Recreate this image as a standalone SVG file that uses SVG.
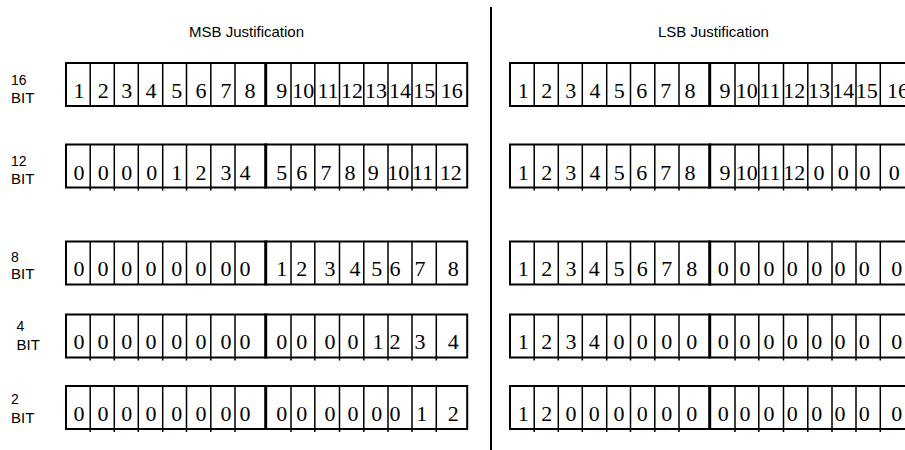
<svg xmlns="http://www.w3.org/2000/svg" xmlns:xlink="http://www.w3.org/1999/xlink" width="905" height="450" viewBox="0 0 905 450">
<style>
.box{fill:none;stroke:#000;stroke-width:2}
.thin{fill:none;stroke:#000;stroke-width:1.5}
.thick{fill:none;stroke:#000;stroke-width:3}
.d{font-family:"Liberation Serif","Times New Roman",serif;font-size:22px;text-anchor:middle;fill:#000}
.num{font-family:"Liberation Sans",Arial,sans-serif;font-size:14px;fill:#000}
.bit{font-family:"Liberation Sans",Arial,sans-serif;font-size:15px;fill:#000}
.title{font-family:"Liberation Sans",Arial,sans-serif;font-size:15px;fill:#000}
</style>
<defs>
<g id="reg">
<rect class="box" x="0" y="0" width="401.2" height="43"/>
<path class="thin" d="M24.2 0V43M48.3 0V43M72.3 0V43M96.7 0V43M120.5 0V43M144.8 0V43M169 0V43M225 0V43M248.8 0V43M273.5 0V43M297.8 0V43M322 0V43M346 0V43M370.3 0V43"/>
<path class="thick" d="M199.7 -1V44"/>
</g>
<g id="regT">
<use xlink:href="#reg"/>
<path class="thin" d="M24.2 43V46M48.3 43V46M72.3 43V46M96.7 43V46M120.5 43V46M144.8 43V46M169 43V46M225 43V46M248.8 43V46M273.5 43V46M297.8 43V46M322 43V46M346 43V46M370.3 43V46"/>
</g>
</defs>

<g id="titles">
<text class="title" x="189" y="37">MSB Justification</text>
<text class="title" x="658" y="37">LSB Justification</text>
</g>

<g id="separator">
<line x1="491" y1="7" x2="491" y2="450" stroke="#000" stroke-width="2"/>
</g>

<g id="row16">
<text class="num" x="11" y="84.5">16</text>
<text class="bit" x="11" y="103">BIT</text>
<use xlink:href="#reg" transform="translate(66,63)"/>
<use xlink:href="#reg" transform="translate(510,63)"/>
<text class="d" y="98"><tspan x="79">1</tspan><tspan x="103.3">2</tspan><tspan x="126.7">3</tspan><tspan x="151">4</tspan><tspan x="176.7">5</tspan><tspan x="201">6</tspan><tspan x="226">7</tspan><tspan x="250">8</tspan><tspan x="281.7">9</tspan><tspan x="303.3">10</tspan><tspan x="328">11</tspan><tspan x="352">12</tspan><tspan x="376">13</tspan><tspan x="400">14</tspan><tspan x="424.3">15</tspan><tspan x="451.7">16</tspan></text>
<text class="d" y="98"><tspan x="523.3">1</tspan><tspan x="546.7">2</tspan><tspan x="570.7">3</tspan><tspan x="595">4</tspan><tspan x="619.3">5</tspan><tspan x="641.7">6</tspan><tspan x="665.7">7</tspan><tspan x="690">8</tspan><tspan x="725">9</tspan><tspan x="746.7">10</tspan><tspan x="770">11</tspan><tspan x="794.3">12</tspan><tspan x="819">13</tspan><tspan x="843.3">14</tspan><tspan x="866.7">15</tspan><tspan x="898">16</tspan></text>
</g>

<g id="row12">
<text class="num" x="11" y="165.5">12</text>
<text class="bit" x="11" y="184">BIT</text>
<use xlink:href="#regT" transform="translate(66,144.5)"/>
<use xlink:href="#regT" transform="translate(510,144.5)"/>
<text class="d" y="180"><tspan x="79">0</tspan><tspan x="103.3">0</tspan><tspan x="126.7">0</tspan><tspan x="151.7">0</tspan><tspan x="176.7">1</tspan><tspan x="201">2</tspan><tspan x="226">3</tspan><tspan x="245">4</tspan><tspan x="281.7">5</tspan><tspan x="301.7">6</tspan><tspan x="326">7</tspan><tspan x="350">8</tspan><tspan x="373.3">9</tspan><tspan x="398.3">10</tspan><tspan x="422.7">11</tspan><tspan x="450.7">12</tspan></text>
<text class="d" y="180"><tspan x="523.3">1</tspan><tspan x="546.7">2</tspan><tspan x="570.7">3</tspan><tspan x="595">4</tspan><tspan x="619.3">5</tspan><tspan x="641.7">6</tspan><tspan x="665.7">7</tspan><tspan x="690">8</tspan><tspan x="725">9</tspan><tspan x="746.7">10</tspan><tspan x="770">11</tspan><tspan x="794.3">12</tspan><tspan x="819">0</tspan><tspan x="843.3">0</tspan><tspan x="865">0</tspan><tspan x="894.3">0</tspan></text>
</g>

<g id="row8">
<text class="num" x="11" y="262">8</text>
<text class="bit" x="11" y="278.5">BIT</text>
<use xlink:href="#reg" transform="translate(66,241.5)"/>
<use xlink:href="#reg" transform="translate(510,241.5)"/>
<text class="d" y="276"><tspan x="79">0</tspan><tspan x="103">0</tspan><tspan x="126.7">0</tspan><tspan x="151">0</tspan><tspan x="176.7">0</tspan><tspan x="201">0</tspan><tspan x="226">0</tspan><tspan x="245">0</tspan><tspan x="281.7">1</tspan><tspan x="301.7">2</tspan><tspan x="330">3</tspan><tspan x="355">4</tspan><tspan x="376.7">5</tspan><tspan x="395">6</tspan><tspan x="420">7</tspan><tspan x="453.3">8</tspan></text>
<text class="d" y="276"><tspan x="523.3">1</tspan><tspan x="546.7">2</tspan><tspan x="571">3</tspan><tspan x="594.3">4</tspan><tspan x="619">5</tspan><tspan x="642.3">6</tspan><tspan x="666.7">7</tspan><tspan x="691.7">8</tspan><tspan x="723.3">0</tspan><tspan x="745">0</tspan><tspan x="769">0</tspan><tspan x="792.3">0</tspan><tspan x="816.7">0</tspan><tspan x="840">0</tspan><tspan x="864.3">0</tspan><tspan x="896.7">0</tspan></text>
</g>

<g id="row4">
<text class="num" x="16.5" y="330.5">4</text>
<text class="bit" x="16.5" y="350">BIT</text>
<use xlink:href="#regT" transform="translate(66,314.5)"/>
<use xlink:href="#regT" transform="translate(510,314.5)"/>
<text class="d" y="349"><tspan x="79">0</tspan><tspan x="103">0</tspan><tspan x="126.7">0</tspan><tspan x="151">0</tspan><tspan x="176.7">0</tspan><tspan x="201">0</tspan><tspan x="226">0</tspan><tspan x="245">0</tspan><tspan x="281.7">0</tspan><tspan x="301.7">0</tspan><tspan x="330">0</tspan><tspan x="353">0</tspan><tspan x="378">1</tspan><tspan x="395">2</tspan><tspan x="420">3</tspan><tspan x="453.3">4</tspan></text>
<text class="d" y="349"><tspan x="523.3">1</tspan><tspan x="546.7">2</tspan><tspan x="571">3</tspan><tspan x="594.3">4</tspan><tspan x="619">0</tspan><tspan x="642.3">0</tspan><tspan x="666.7">0</tspan><tspan x="691.7">0</tspan><tspan x="723.3">0</tspan><tspan x="745">0</tspan><tspan x="769">0</tspan><tspan x="792.3">0</tspan><tspan x="816.7">0</tspan><tspan x="840">0</tspan><tspan x="864.3">0</tspan><tspan x="896.7">0</tspan></text>
</g>

<g id="row2">
<text class="num" x="11" y="404">2</text>
<text class="bit" x="11" y="422.5">BIT</text>
<use xlink:href="#regT" transform="translate(66,386)"/>
<use xlink:href="#regT" transform="translate(510,386)"/>
<text class="d" y="421"><tspan x="79">0</tspan><tspan x="103">0</tspan><tspan x="126.7">0</tspan><tspan x="151">0</tspan><tspan x="176.7">0</tspan><tspan x="201">0</tspan><tspan x="226">0</tspan><tspan x="245">0</tspan><tspan x="281.7">0</tspan><tspan x="301.7">0</tspan><tspan x="330">0</tspan><tspan x="353">0</tspan><tspan x="376.7">0</tspan><tspan x="395">0</tspan><tspan x="421.7">1</tspan><tspan x="453.3">2</tspan></text>
<text class="d" y="421"><tspan x="523.3">1</tspan><tspan x="546.7">2</tspan><tspan x="571">0</tspan><tspan x="594.3">0</tspan><tspan x="619">0</tspan><tspan x="642.3">0</tspan><tspan x="666.7">0</tspan><tspan x="691.7">0</tspan><tspan x="723.3">0</tspan><tspan x="745">0</tspan><tspan x="769">0</tspan><tspan x="792.3">0</tspan><tspan x="816.7">0</tspan><tspan x="840">0</tspan><tspan x="864.3">0</tspan><tspan x="896.7">0</tspan></text>
</g>
</svg>
